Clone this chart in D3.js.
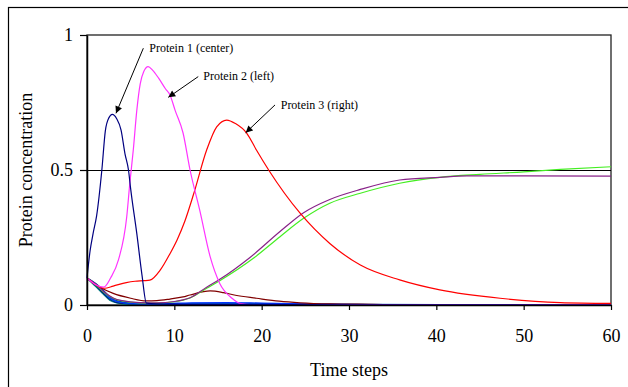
<!DOCTYPE html>
<html>
<head>
<meta charset="utf-8">
<script src="https://cdn.jsdelivr.net/npm/d3@7"></script>
<style>
  body { margin: 0; background: #fff; }
  svg { display: block; font-family: "Liberation Serif", "Times New Roman", serif; }
</style>
</head>
<body>
<div id="graph"></div>
<script>
// values, [time step, concentration]
var protein1 = [[0,0.1],[0.35,0.2],[0.7,0.265],[1.1,0.33],[1.7,0.5],[2.1,0.645],[2.5,0.693],[2.9,0.706],[3.4,0.69],[3.9,0.648],[4.35,0.56],[4.75,0.5],[5.0,0.43],[5.7,0.265],[6.3,0.11],[6.8,0.007],[8,0.004],[10,0.003],[20,0.002],[30,0.001],[60,0]];
var protein2 = [[0,0.1],[1,0.075],[1.9,0.066],[2.7,0.1],[3.6,0.167],[4.55,0.327],[4.9,0.45],[5.3,0.574],[5.7,0.72],[6.1,0.82],[6.5,0.865],[7.0,0.883],[7.5,0.87],[8.2,0.84],[9.0,0.8],[9.5,0.778],[10.1,0.72],[11,0.637],[11.8,0.5],[12.9,0.352],[14.1,0.179],[15.2,0.08],[16.6,0.025],[17.5,0.006],[19,0.001],[60,0]];
var protein3 = [[0,0.1],[1,0.075],[2,0.062],[3,0.07],[4.5,0.083],[5.5,0.088],[6.5,0.09],[7.2,0.092],[8.4,0.13],[9.5,0.19],[10.3,0.24],[11.2,0.31],[12.2,0.41],[13.7,0.574],[14.85,0.66],[16,0.685],[17,0.672],[18.3,0.636],[19.4,0.574],[20.8,0.5],[24.4,0.34],[27.8,0.228],[31.3,0.148],[35.8,0.093],[40.4,0.056],[47.3,0.025],[54.2,0.009],[60,0.006]];
var greenSeries = [[0,0.1],[1,0.075],[2,0.045],[3,0.025],[4,0.015],[6,0.008],[8,0.007],[10,0.012],[11,0.018],[11.8,0.026],[13.7,0.062],[15.2,0.09],[19.05,0.173],[22.1,0.253],[24.8,0.321],[27.8,0.377],[31.3,0.414],[35.8,0.451],[40.4,0.473],[45,0.484],[50,0.493],[54.2,0.502],[60,0.512]];
var purpleSeries = [[0,0.1],[1,0.077],[2,0.047],[3,0.026],[4,0.016],[6,0.009],[8,0.008],[10,0.013],[11,0.019],[11.8,0.027],[13.7,0.066],[15.2,0.095],[18.7,0.177],[22.1,0.272],[24.8,0.342],[27.8,0.391],[31.3,0.428],[35.8,0.463],[40.4,0.473],[43.5,0.478],[50,0.478],[60,0.477]];
var maroonSeries = [[0,0.1],[0.8,0.08],[1.7,0.062],[3,0.043],[5,0.025],[6.8,0.015],[8,0.016],[9.5,0.022],[11,0.03],[11.8,0.037],[14.1,0.052],[15.6,0.046],[17,0.036],[19.4,0.025],[22,0.014],[24.4,0.008],[27.8,0.004],[31,0.003],[35,0.001],[40,0],[60,0]];
var cluster1 = [[0,0.1],[1,0.072],[1.7,0.05],[2.6,0.022],[3.4,0.01],[5,0.004],[8,0.002],[60,0]];
var cluster2 = [[0,0.1],[1,0.078],[1.7,0.058],[2.6,0.028],[3.4,0.014],[5,0.006],[8,0.005],[12,0.008],[16,0.009],[20,0.007],[27,0.003],[35,0.001],[60,0]];
var cluster3 = [[0,0.1],[1,0.068],[1.7,0.045],[2.6,0.018],[3.4,0.008],[5,0.002],[8,0.001],[60,0]];
var cluster4 = [[0,0.1],[1,0.075],[1.7,0.055],[2.6,0.025],[3.4,0.012],[5,0.005],[8,0.004],[12,0.006],[18,0.006],[25,0.003],[60,0]];
var cluster5 = [[0,0.1],[1,0.07],[1.7,0.048],[2.6,0.02],[3.4,0.009],[5,0.003],[60,0]];
var cluster6 = [[0,0.1],[1,0.08],[1.7,0.06],[2.6,0.03],[3.4,0.016],[5,0.007],[8,0.004],[60,0]];

var xTicks = [0, 10, 20, 30, 40, 50, 60];
var yTicks = [0, 0.5, 1];
var yGrid = [0.5];

// label text, [t, v] of text start, arrow start, arrow tip
var labels = [
  { name: "Protein 1 (center)", text: [7.13, 0.951], from: [6.45, 0.951], to: [3.32, 0.71] },
  { name: "Protein 2 (left)",   text: [13.32, 0.848], from: [12.74, 0.846], to: [9.31, 0.769] },
  { name: "Protein 3 (right)",  text: [22.18, 0.743], from: [21.53, 0.741], to: [18.17, 0.638] }
];

var series = [
  { data: cluster6, color: "#003366" },
  { data: cluster5, color: "#339999" },
  { data: cluster3, color: "#008080" },
  { data: cluster1, color: "#000080" },
  { data: cluster4, color: "#0066cc" },
  { data: cluster2, color: "#0033ff" },
  { data: maroonSeries, color: "#800000" },
  { data: greenSeries, color: "#44ee22" },
  { data: purpleSeries, color: "#882288" },
  { data: protein3, color: "#ff0000" },
  { data: protein2, color: "#ff33ff" },
  { data: protein1, color: "#000080" }
];

var width = 628, height = 387;
var margin = { top: 35, right: 17, bottom: 82, left: 87 };
var chartWidth = width - margin.left - margin.right;
var chartHeight = height - margin.top - margin.bottom;

var svg = d3.select("#graph").append("svg")
    .attr("width", width)
    .attr("height", height);

// outer frame (runs off the right and bottom edges)
svg.append("rect")
    .attr("x", 8.5).attr("y", 7.5)
    .attr("width", 640).attr("height", 400)
    .attr("fill", "none")
    .attr("stroke", "#000")
    .attr("stroke-width", 1.2);

svg.append("defs").append("marker")
    .attr("id", "arrow")
    .attr("viewBox", "0 0 10 10")
    .attr("refX", 10).attr("refY", 5)
    .attr("markerWidth", 8).attr("markerHeight", 7)
    .attr("markerUnits", "userSpaceOnUse")
    .attr("orient", "auto")
  .append("path")
    .attr("d", "M0,0L10,5L0,10z")
    .attr("fill", "#000");

var g = svg.append("g")
    .attr("transform", "translate(" + margin.left + "," + margin.top + ")");

var x = d3.scaleLinear().domain([0, 60]).range([0, chartWidth]);
var y = d3.scaleLinear().domain([0, 1]).range([chartHeight, 0]);

// plot area border
g.append("rect")
    .attr("width", chartWidth).attr("height", chartHeight)
    .attr("fill", "none")
    .attr("stroke", "#222")
    .attr("stroke-width", 1.3);

g.selectAll(".grid")
    .data(yGrid).enter()
    .append("line")
    .attr("x1", 0).attr("x2", chartWidth)
    .attr("y1", function(d){ return y(d) + 0.5; })
    .attr("y2", function(d){ return y(d) + 0.5; })
    .attr("stroke", "#000")
    .attr("stroke-width", 1)
    .attr("shape-rendering", "crispEdges");

var line = d3.line()
    .x(function(d){ return x(d[0]); })
    .y(function(d){ return y(d[1]); })
    .curve(d3.curveMonotoneX);

g.selectAll(".series")
    .data(series).enter()
    .append("path")
    .attr("d", function(d){ return line(d.data); })
    .attr("fill", "none")
    .attr("stroke", function(d){ return d.color; })
    .attr("stroke-width", 1.2);

var xAxis = g.append("g")
    .attr("transform", "translate(0," + chartHeight + ")")
    .call(d3.axisBottom(x).tickValues(xTicks).tickSize(5).tickPadding(19).tickSizeOuter(0));

var yAxis = g.append("g")
    .call(d3.axisLeft(y).tickValues(yTicks).tickSize(7).tickPadding(7).tickSizeOuter(0)
      .tickFormat(function(d){ return d; }));

[xAxis, yAxis].forEach(function(a){
  a.select(".domain").attr("stroke", "#000").attr("stroke-width", 1.5);
  a.selectAll(".tick line").attr("stroke", "#000").attr("stroke-width", 1.2);
  a.selectAll("text")
    .attr("font-family", "Liberation Serif, Times New Roman, serif")
    .attr("font-size", "18px")
    .attr("fill", "#000");
});

// annotations
labels.forEach(function(d){
  g.append("line")
    .attr("x1", x(d.from[0])).attr("y1", y(d.from[1]))
    .attr("x2", x(d.to[0])).attr("y2", y(d.to[1]))
    .attr("stroke", "#000")
    .attr("stroke-width", 1)
    .attr("marker-end", "url(#arrow)");
  g.append("text")
    .attr("x", x(d.text[0])).attr("y", y(d.text[1]))
    .attr("dy", "0.35em")
    .attr("font-size", "12px")
    .text(d.name);
});

svg.append("text")
    .attr("x", margin.left + chartWidth / 2)
    .attr("y", 376)
    .attr("text-anchor", "middle")
    .attr("font-size", "18px")
    .text("Time steps");

svg.append("text")
    .attr("transform", "translate(31.5," + (margin.top + chartHeight / 2) + ") rotate(-90)")
    .attr("text-anchor", "middle")
    .attr("font-size", "18px")
    .text("Protein concentration");
</script>
</body>
</html>
